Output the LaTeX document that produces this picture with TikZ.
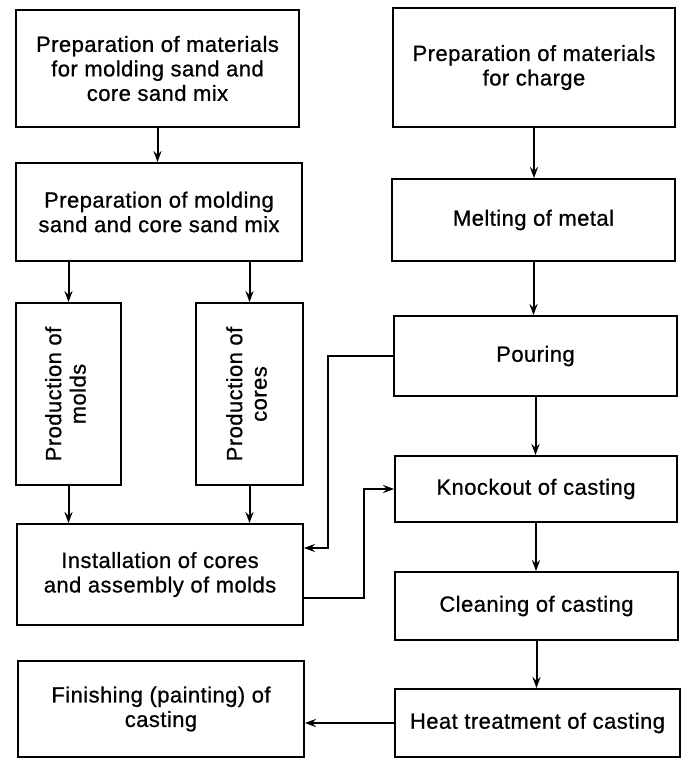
\documentclass[tikz,border=0pt]{standalone}
\usepackage{fontspec}
\setmainfont[LetterSpace=2, FakeBold=0.8]{Liberation Sans}
\usepackage{graphicx}
\usetikzlibrary{arrows.meta}

\begin{document}
\begin{tikzpicture}[x=1pt, y=-1pt,
        stage/.style={draw, line width=1.8pt, align=center, inner sep=2pt,
            font=\fontsize{22}{24.5}\selectfont},
        flow/.style={line width=2pt, -{Stealth[length=11pt, width=8pt]}}]
        \useasboundingbox (0,0) rectangle (682,758);

        % sand side
        \node[stage, minimum width=283pt, minimum height=117pt] (matsand) at (157.5,68.5) {Preparation of materials\\for molding sand and\\core sand mix};
        \node[stage, minimum width=286pt, minimum height=98pt] (mixprep) at (159,212) {Preparation of molding\\sand and core sand mix};
        \node[stage, minimum width=105pt, minimum height=182pt] (molds) at (68.5,394) {\rotatebox{90}{\begin{tabular}{@{}c@{}}Production of\\molds\end{tabular}}};
        \node[stage, minimum width=107pt, minimum height=182pt] (cores) at (249.5,394) {\rotatebox{90}{\begin{tabular}{@{}c@{}}Production of\\cores\end{tabular}}};
        \node[stage, minimum width=286pt, minimum height=101pt] (inst) at (160,574.5) {Installation of cores\\and assembly of molds};
        \node[stage, minimum width=286pt, minimum height=96pt] (finish) at (161,709) {Finishing (painting) of\\casting};

        % metal side
        \node[stage, minimum width=282pt, minimum height=119pt] (charge) at (534,67.5) {Preparation of materials\\for charge};
        \node[stage, minimum width=283pt, minimum height=82pt] (melt) at (533.5,220) {Melting of metal};
        \node[stage, minimum width=283pt, minimum height=80pt] (pour) at (535.5,356) {Pouring};
        \node[stage, minimum width=282pt, minimum height=66pt] (knock) at (536,489) {Knockout of casting};
        \node[stage, minimum width=283pt, minimum height=68pt] (clean) at (536.5,606) {Cleaning of casting};
        \node[stage, minimum width=285pt, minimum height=68pt] (heat) at (537.5,723) {Heat treatment of casting};

        % arrows
        \draw[flow] (matsand.south) -- (matsand.south |- mixprep.north);
        \draw[flow] (molds.north |- mixprep.south) -- (molds.north);
        \draw[flow] (cores.north |- mixprep.south) -- (cores.north);
        \draw[flow] (molds.south) -- (molds.south |- inst.north);
        \draw[flow] (cores.south) -- (cores.south |- inst.north);
        \foreach \from/\to in {charge/melt, melt/pour, pour/knock, knock/clean, clean/heat}
            \draw[flow] (\from.south) -- (\from.south |- \to.north);
        \draw[flow] (pour.west) -- ++(-65,0) |- ([yshift=26.5pt]inst.east);
        \draw[flow] ([yshift=-23.5pt]inst.east) -- ++(60,0) |- (knock.west);
        \draw[flow] (heat.west) -- (heat.west -| finish.east);
    \end{tikzpicture}
\end{document}
